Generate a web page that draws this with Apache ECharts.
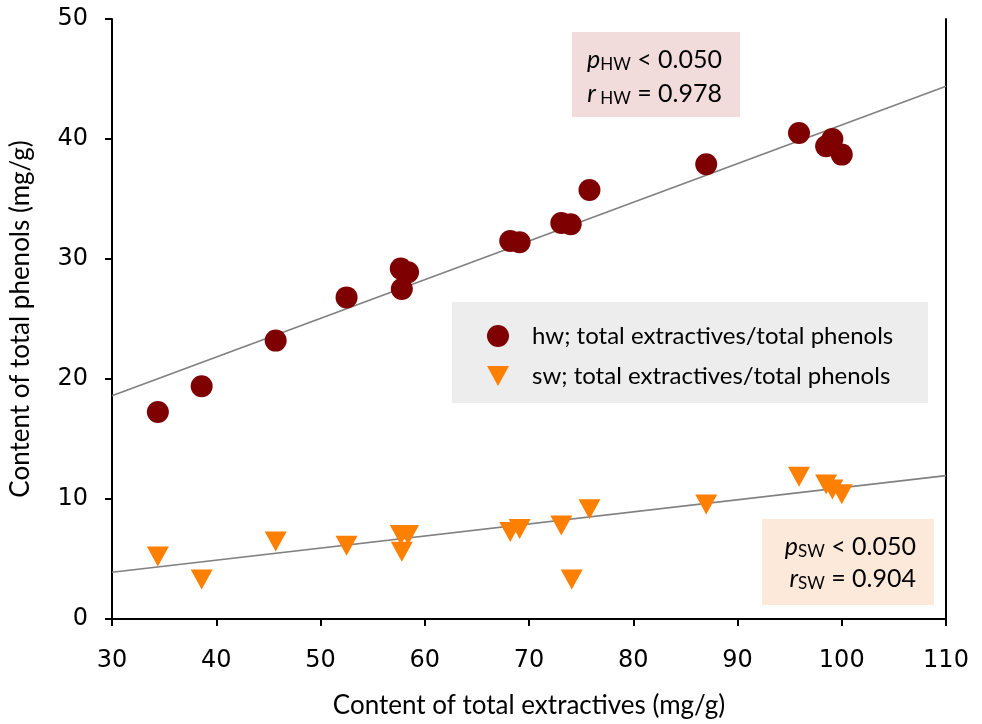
<!DOCTYPE html>
<html><head><meta charset="utf-8">
<script src="https://cdn.jsdelivr.net/npm/echarts@6/dist/echarts.min.js"></script>
<style>html,body{margin:0;padding:0;background:#fff}#c{width:982px;height:724px}</style>
</head><body><div id="c"></div>
<script>
// Data
const hwData = [[34.4,17.25],[38.6,19.4],[45.7,23.2],[52.5,26.8],[57.7,29.2],[58.4,28.9],[57.8,27.5],[68.2,31.5],[69.1,31.4],[73.1,33.0],[74.0,32.9],[75.8,35.75],[87.0,37.9],[95.9,40.5],[99.1,40.0],[98.5,39.4],[100.0,38.7]];
const swData = [[34.4,5.2],[38.6,3.3],[45.7,6.45],[52.5,6.1],[57.7,7.0],[58.4,7.0],[57.8,5.6],[68.2,7.25],[69.1,7.5],[73.1,7.8],[74.1,3.3],[75.8,9.15],[87.0,9.55],[95.9,11.85],[99.1,10.8],[98.5,11.2],[100.0,10.4]];
const hwTrend = [[30,18.6],[110,44.4]];
const swTrend = [[30,3.9],[110,11.95]];
const seriesNames = ['hw; total extractives/total phenols','sw; total extractives/total phenols'];
const xTitle = 'Content of total extractives (mg/g)';
const yTitle = 'Content of total phenols (mg/g)';
const hwStats = ['0.050','0.978'];
const swStats = ['0.050','0.904'];

const chart = echarts.init(document.getElementById('c'));
const titleFont = 'Lato';
const tickFont = 'DejaVu Sans';
const rich = {
  i:{fontFamily:titleFont,fontStyle:'italic',fontSize:25,color:'#000'},
  s:{fontFamily:titleFont,fontSize:17,color:'#000',padding:[11,0,0,0]},
  n:{fontFamily:titleFont,fontSize:25,color:'#000'}
};
chart.setOption({
  animation:false,
  grid:{left:112,right:36,top:19,bottom:105},
  xAxis:{type:'value',min:30,max:110,interval:10,
    name:xTitle,nameLocation:'middle',nameGap:74,
    nameTextStyle:{fontFamily:titleFont,fontSize:26,color:'#000'},
    axisLine:{onZero:false,lineStyle:{color:'#000',width:2}},
    axisTick:{inside:false,length:7,lineStyle:{color:'#000',width:2}},
    axisLabel:{margin:30,fontFamily:tickFont,fontSize:24,color:'#000'},
    splitLine:{show:false}},
  yAxis:[{type:'value',min:0,max:50,interval:10,
    name:yTitle,nameLocation:'middle',nameGap:78,
    nameTextStyle:{fontFamily:titleFont,fontSize:26,color:'#000'},
    axisLine:{show:true,lineStyle:{color:'#000',width:2}},
    axisTick:{show:true,length:7,lineStyle:{color:'#000',width:2}},
    axisLabel:{margin:24,fontFamily:tickFont,fontSize:24,color:'#000'},
    splitLine:{show:false}},
    {type:'value',min:0,max:50,position:'right',
    axisLine:{show:true,lineStyle:{color:'#000',width:2}},
    axisTick:{show:false},axisLabel:{show:false},splitLine:{show:false}}],
  legend:{orient:'vertical',left:487,top:324,padding:0,
    itemGap:16,itemWidth:22,itemHeight:22,
    formatter:function(n){return '{g|}'+n;},
    textStyle:{fontFamily:titleFont,fontSize:24,color:'#000',rich:{g:{width:18}}},
    data:[{name:seriesNames[0],icon:'circle'},{name:seriesNames[1],icon:'path://M0,0L22,0L11,20Z'}]},
  series:[
    {type:'line',data:hwTrend,showSymbol:false,symbol:'none',lineStyle:{color:'#808080',width:1.6},silent:true,z:1},
    {type:'line',data:swTrend,showSymbol:false,symbol:'none',lineStyle:{color:'#808080',width:1.6},silent:true,z:1},
    {name:seriesNames[0],type:'scatter',data:hwData,symbol:'circle',symbolSize:22,itemStyle:{color:'#7f0000',opacity:1},z:3},
    {name:seriesNames[1],type:'scatter',data:swData,symbol:'triangle',symbolRotate:180,symbolSize:[22,20],itemStyle:{color:'#ff7f00',opacity:1},z:3}
  ],
  graphic:[
    {type:'rect',left:452,top:302,shape:{width:476,height:101},style:{fill:'#ededed'},z:-1,silent:true},
    {type:'rect',left:572,top:32,shape:{width:168,height:85},style:{fill:'#f2dcdb'},z:5},
    {type:'text',right:982-722,top:47,z:6,style:{text:'{i|p}{s|HW}{n| < '+hwStats[0]+'}',rich:rich,align:'right'}},
    {type:'text',right:982-722,top:81,z:6,style:{text:'{i|r}{s| HW}{n| = '+hwStats[1]+'}',rich:rich,align:'right'}},
    {type:'rect',left:762,top:519,shape:{width:172,height:86},style:{fill:'#fde9d9'},z:5},
    {type:'text',right:982-916,top:534,z:6,style:{text:'{i|p}{s|SW}{n| < '+swStats[0]+'}',rich:rich,align:'right'}},
    {type:'text',right:982-916,top:566,z:6,style:{text:'{i|r}{s|SW}{n| = '+swStats[1]+'}',rich:rich,align:'right'}}
  ]
});
</script></body></html>
